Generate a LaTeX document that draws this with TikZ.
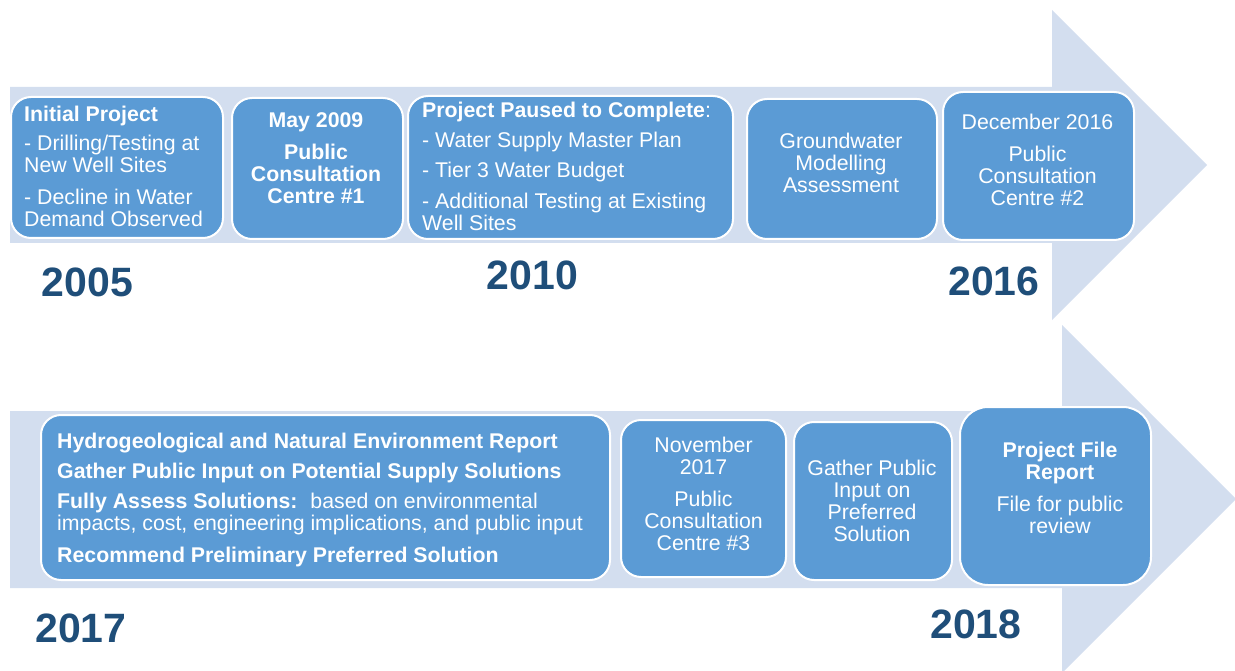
\documentclass[tikz,border=0pt]{standalone}
\usepackage{fontspec}
\setmainfont{Liberation Sans}
\definecolor{shaftblue}{HTML}{D3DEEF}
\definecolor{boxblue}{HTML}{5B9BD5}
\definecolor{yearblue}{HTML}{1F4E79}
\newcommand{\firstline}{\rule{0pt}{16pt}}
\begin{document}
\begin{tikzpicture}[x=1pt,y=-1pt,
  stagebox/.style={draw=white, line width=2pt, fill=boxblue, rectangle,
    rounded corners=20pt, inner sep=0pt},
  stagetext/.style={inner sep=0pt, text=white,
    font=\fontsize{21.3}{22}\selectfont},
  yearlabel/.style={inner sep=0pt, anchor=base, text=yearblue,
    font=\fontsize{41}{45}\selectfont\bfseries}]
\useasboundingbox (0,0) rectangle (1235,671);

% timeline arrows
\begin{scope}
\clip (0,0) rectangle (1235,671);
\fill[shaftblue] (10,87) -- (1052,87) -- (1052,10) -- (1207,165)
  -- (1052,320) -- (1052,243) -- (10,243) -- cycle;
\fill[shaftblue] (10,411) -- (1062,411) -- (1062,325) -- (1236,499)
  -- (1062,673) -- (1062,588) -- (10,588) -- cycle;
\end{scope}

% first row of stages
\node[stagebox, minimum width=212, minimum height=141] (b1) at (117,167.5) {};
\node[stagebox, minimum width=171, minimum height=141] (b2) at (317.5,168.5) {};
\node[stagebox, minimum width=325, minimum height=143] (b3) at (570.5,167.5) {};
\node[stagebox, minimum width=190, minimum height=140] (b4) at (842,169) {};
\node[stagebox, minimum width=191, minimum height=148] (b5) at (1038.5,166) {};

\node[stagetext, anchor=north west, align=left] (t1) at (24,105)
  {\firstline\textbf{Initial Project}\\[7pt]
   - Drilling/Testing at\\ New Well Sites\\[10pt]
   - Decline in Water\\ Demand Observed};
\node[stagetext, anchor=north, align=center] (t2) at (316,111)
  {\firstline\textbf{May 2009}\\[10pt]
   \textbf{Public}\\ \textbf{Consultation}\\ \textbf{Centre \#1}};
\node[stagetext, anchor=north west, align=left] (t3) at (422,101)
  {\firstline\textbf{Project Paused to Complete}:\\[8pt]
   - Water Supply Master Plan\\[8pt]
   - Tier 3 Water Budget\\[9pt]
   - Additional Testing at Existing\\ Well Sites};
\node[stagetext, anchor=north, align=center] (t4) at (841,132)
  {\firstline Groundwater\\ Modelling\\ Assessment};
\node[stagetext, anchor=north, align=center] (t5) at (1037.5,113)
  {\firstline December 2016\\[10pt]
   Public\\ Consultation\\ Centre \#2};

% second row of stages
\node[stagebox, minimum width=569, minimum height=165] (b6) at (325.5,497.5) {};
\node[stagebox, minimum width=165, minimum height=157] (b7) at (703.5,498.5) {};
\node[stagebox, minimum width=158, minimum height=158] (b8) at (873,501) {};
\node[stagebox, minimum width=191, minimum height=178, rounded corners=28pt] (b9) at (1055.5,496) {};

\node[stagetext, anchor=north west, align=left] (t6) at (57,432)
  {\firstline\textbf{Hydrogeological and Natural Environment Report}\\[8pt]
   \textbf{Gather Public Input on Potential Supply Solutions}\\[8pt]
   \textbf{Fully Assess Solutions:}\hspace{13pt}based on environmental\\
   impacts, cost, engineering implications, and public input\\[10pt]
   \textbf{Recommend Preliminary Preferred Solution}};
\node[stagetext, anchor=north, align=center] (t7) at (703.5,436)
  {\firstline November\\ 2017\\[10pt]
   Public\\ Consultation\\ Centre \#3};
\node[stagetext, anchor=north, align=center] (t8) at (872,459)
  {\firstline Gather Public\\ Input on\\ Preferred\\ Solution};
\node[stagetext, anchor=north, align=center] (t9) at (1060,441)
  {\firstline\textbf{Project File}\\ \textbf{Report}\\[10pt]
   File for public\\ review};

% years
\node[yearlabel] (y2005) at (87.5,297) {2005};
\node[yearlabel] (y2010) at (532.5,290) {2010};
\node[yearlabel] (y2016) at (994,295) {2016};
\node[yearlabel] (y2017) at (81,642) {2017};
\node[yearlabel] (y2018) at (976,638) {2018};
\end{tikzpicture}
\end{document}
